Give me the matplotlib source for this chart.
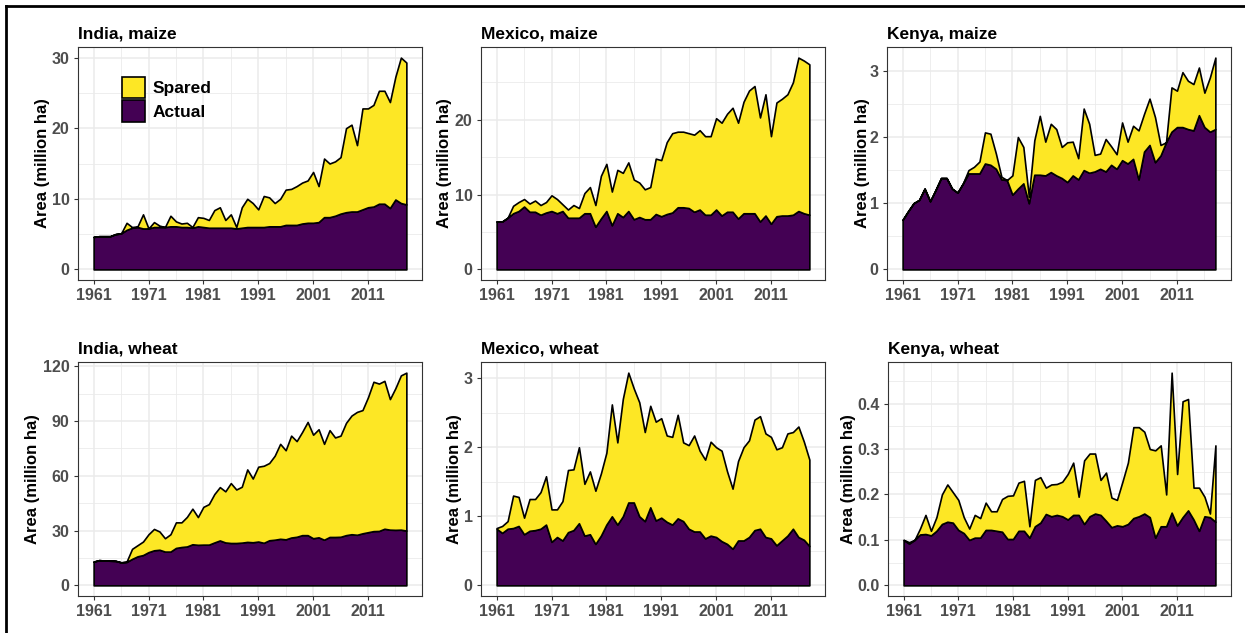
"""Spared vs actual harvested area, six country/crop panels."""

import matplotlib
matplotlib.use("Agg")
import matplotlib.pyplot as plt
from matplotlib.lines import Line2D
from matplotlib.patches import Patch
from matplotlib.ticker import FixedLocator
import numpy as np

plt.rcParams["font.family"] = ["Liberation Sans", "DejaVu Sans"]

years = np.arange(1961, 2019)
xticks = [1961, 1971, 1981, 1991, 2001, 2011]

# total area (actual + spared), million ha
india_maize_total = [
    4.6, 4.7, 4.7, 4.7, 5.0, 5.1, 6.6, 6.0, 6.1, 7.8,
    5.8, 6.7, 6.2, 6.0, 7.6, 6.8, 6.5, 6.6, 6.0, 7.4,
    7.3, 7.0, 8.4, 8.8, 7.0, 7.8, 6.0, 8.8, 10.0, 9.4,
    8.5, 10.4, 10.2, 9.4, 10.0, 11.3, 11.4, 11.8, 12.3, 12.6,
    13.8, 11.8, 15.7, 15.0, 15.3, 15.9, 20.0, 20.5, 17.6, 22.8,
    22.8, 23.3, 25.3, 25.3, 23.7, 27.3, 30.0, 29.3,
]
india_maize_actual = [
    4.6, 4.7, 4.7, 4.7, 5.0, 5.1, 5.6, 5.9, 6.0, 5.8,
    5.8, 6.0, 6.0, 6.0, 6.1, 6.1, 6.0, 6.0, 5.9, 6.1,
    6.0, 5.9, 5.9, 5.9, 5.9, 5.9, 5.8, 5.9, 6.0, 6.0,
    6.0, 6.0, 6.1, 6.1, 6.1, 6.3, 6.3, 6.3, 6.5, 6.6,
    6.6, 6.7, 7.4, 7.4, 7.6, 7.9, 8.1, 8.2, 8.2, 8.5,
    8.8, 8.9, 9.3, 9.3, 8.7, 9.9, 9.4, 9.2,
]

mexico_maize_total = [
    6.4, 6.4, 6.9, 8.5, 9.0, 9.4, 8.8, 9.2, 8.6, 9.0,
    9.9, 9.4, 8.7, 8.0, 8.6, 8.2, 10.2, 11.0, 8.6, 12.5,
    14.1, 10.4, 13.3, 12.9, 14.3, 12.0, 11.6, 10.7, 11.0, 14.8,
    14.6, 17.0, 18.2, 18.4, 18.4, 18.2, 18.0, 18.6, 17.8, 17.8,
    20.2, 19.6, 20.8, 21.6, 19.6, 22.4, 23.9, 24.5, 20.3, 23.4,
    17.8, 22.3, 22.8, 23.4, 25.0, 28.3, 27.9, 27.4,
]
mexico_maize_actual = [
    6.4, 6.4, 6.9, 7.5, 7.8, 8.4, 7.7, 7.7, 7.3, 7.6,
    7.8, 7.5, 7.8, 6.9, 6.9, 6.9, 7.5, 7.5, 5.7, 6.8,
    7.8, 5.9, 7.5, 7.0, 7.8, 6.7, 7.0, 6.7, 6.7, 7.4,
    7.1, 7.4, 7.6, 8.3, 8.3, 8.2, 7.7, 8.0, 7.3, 7.3,
    8.0, 7.2, 7.7, 7.7, 6.8, 7.5, 7.5, 7.5, 6.4, 7.2,
    6.1, 7.1, 7.2, 7.2, 7.3, 7.8, 7.5, 7.3,
]

kenya_maize_total = [
    0.75, 0.88, 1.00, 1.05, 1.22, 1.03, 1.20, 1.38, 1.38, 1.22,
    1.16, 1.30, 1.50, 1.55, 1.63, 2.07, 2.05, 1.75, 1.40, 1.35,
    1.42, 2.00, 1.85, 1.10, 1.95, 2.32, 1.93, 2.20, 2.12, 1.85,
    1.92, 1.93, 1.68, 2.43, 2.20, 1.73, 1.75, 1.97, 1.86, 1.74,
    2.22, 1.93, 2.17, 2.10, 2.35, 2.58, 2.30, 1.88, 1.92, 2.75,
    2.70, 2.98, 2.85, 2.80, 3.05, 2.67, 2.90, 3.20,
]
kenya_maize_actual = [
    0.75, 0.88, 1.00, 1.05, 1.22, 1.03, 1.20, 1.38, 1.38, 1.22,
    1.16, 1.30, 1.45, 1.45, 1.45, 1.60, 1.58, 1.52, 1.36, 1.35,
    1.13, 1.22, 1.30, 1.00, 1.43, 1.43, 1.42, 1.47, 1.42, 1.38,
    1.32, 1.42, 1.36, 1.50, 1.46, 1.48, 1.52, 1.48, 1.58, 1.52,
    1.65, 1.60, 1.67, 1.36, 1.78, 1.88, 1.62, 1.72, 1.92, 2.08,
    2.15, 2.15, 2.12, 2.10, 2.33, 2.15, 2.08, 2.12,
]

india_wheat_total = [
    13.0, 13.8, 13.6, 13.5, 13.4, 12.6, 13.0, 20.0, 22.0, 24.0,
    28.0, 30.9, 29.5, 25.8, 28.0, 34.5, 34.5, 37.5, 42.0, 37.4,
    43.0, 44.5, 50.0, 53.8, 51.5, 56.0, 52.5, 54.0, 63.5, 58.5,
    65.0, 65.5, 67.0, 71.0, 77.5, 74.0, 82.0, 79.0, 84.0, 89.5,
    82.5, 85.5, 77.5, 85.0, 81.0, 82.0, 89.0, 93.0, 95.0, 96.0,
    103.0, 111.5, 110.5, 112.0, 102.0, 108.0, 115.0, 116.5,
]
india_wheat_actual = [
    13.0, 13.8, 13.6, 13.5, 13.4, 12.6, 12.8, 14.5, 15.9, 16.6,
    18.2, 19.2, 19.5, 18.5, 18.5, 20.5, 21.0, 21.3, 22.5, 22.2,
    22.3, 22.3, 23.5, 24.6, 23.5, 23.2, 23.2, 23.4, 23.8, 23.6,
    24.0, 23.3, 24.7, 25.0, 25.5, 25.2, 26.2, 26.6, 27.5, 27.5,
    25.8, 26.3, 25.0, 26.5, 26.5, 26.6, 27.5, 28.0, 27.7, 28.5,
    29.1, 29.7, 29.8, 31.0, 30.5, 30.4, 30.5, 30.0,
]

mexico_wheat_total = [
    0.83, 0.86, 0.93, 1.30, 1.28, 0.98, 1.25, 1.25, 1.35, 1.58,
    1.10, 1.10, 1.22, 1.67, 1.68, 2.00, 1.47, 1.65, 1.37, 1.62,
    1.92, 2.62, 2.07, 2.70, 3.08, 2.85, 2.65, 2.22, 2.60, 2.37,
    2.42, 2.17, 2.15, 2.47, 2.07, 2.03, 2.17, 1.95, 1.82, 2.08,
    2.00, 1.95, 1.65, 1.40, 1.80, 2.00, 2.10, 2.40, 2.45, 2.20,
    2.15, 1.97, 2.00, 2.20, 2.22, 2.30, 2.08, 1.82,
]
mexico_wheat_actual = [
    0.82, 0.76, 0.82, 0.83, 0.86, 0.74, 0.79, 0.80, 0.82, 0.88,
    0.63, 0.70, 0.65, 0.77, 0.80, 0.90, 0.72, 0.74, 0.60, 0.72,
    0.88, 1.00, 0.88, 1.00, 1.20, 1.20, 1.00, 0.93, 1.13, 0.94,
    0.98, 0.92, 0.88, 0.97, 0.93, 0.82, 0.78, 0.78, 0.68, 0.72,
    0.70, 0.64, 0.60, 0.53, 0.65, 0.65, 0.70, 0.80, 0.82, 0.70,
    0.68, 0.58, 0.65, 0.72, 0.82, 0.70, 0.66, 0.57,
]

kenya_wheat_total = [
    0.100, 0.095, 0.100, 0.125, 0.155, 0.120, 0.150, 0.200, 0.222, 0.205,
    0.188, 0.150, 0.125, 0.155, 0.148, 0.182, 0.163, 0.163, 0.190, 0.197,
    0.198, 0.226, 0.230, 0.130, 0.232, 0.238, 0.215, 0.222, 0.223, 0.228,
    0.245, 0.270, 0.195, 0.275, 0.290, 0.290, 0.232, 0.248, 0.193, 0.188,
    0.228, 0.270, 0.348, 0.348, 0.338, 0.300, 0.297, 0.308, 0.200, 0.468,
    0.245, 0.405, 0.410, 0.215, 0.215, 0.195, 0.158, 0.308,
]
kenya_wheat_actual = [
    0.100, 0.092, 0.100, 0.112, 0.113, 0.110, 0.120, 0.135, 0.140, 0.138,
    0.122, 0.115, 0.100, 0.105, 0.105, 0.122, 0.122, 0.120, 0.118, 0.102,
    0.102, 0.120, 0.120, 0.105, 0.130, 0.138, 0.157, 0.152, 0.155, 0.152,
    0.145, 0.155, 0.155, 0.135, 0.152, 0.158, 0.155, 0.142, 0.128, 0.132,
    0.130, 0.135, 0.148, 0.152, 0.158, 0.150, 0.105, 0.130, 0.130, 0.160,
    0.132, 0.150, 0.165, 0.145, 0.120, 0.152, 0.150, 0.140,
]

titles = ["India, maize", "Mexico, maize", "Kenya, maize",
          "India, wheat", "Mexico, wheat", "Kenya, wheat"]
totals = [india_maize_total, mexico_maize_total, kenya_maize_total,
          india_wheat_total, mexico_wheat_total, kenya_wheat_total]
actuals = [india_maize_actual, mexico_maize_actual, kenya_maize_actual,
           india_wheat_actual, mexico_wheat_actual, kenya_wheat_actual]
yticks = [[0, 10, 20, 30], [0, 10, 20], [0, 1, 2, 3],
          [0, 30, 60, 90, 120], [0, 1, 2, 3], [0.0, 0.1, 0.2, 0.3, 0.4]]
yfmt = ["{:.0f}"] * 5 + ["{:.1f}"]

SPARED = "#FDE725"
ACTUAL = "#440154"

W, H = 1245, 633
fig = plt.figure(figsize=(W / 100, H / 100), dpi=100)

# panel boxes in pixels: left, top, right, bottom
boxes = [(78, 47, 422, 280), (481, 47, 825, 280), (887, 47, 1231, 280),
         (78, 362, 422, 596), (481, 362, 825, 596), (888, 362, 1231, 596)]
label_x = [42, 445, 862, 33, 454, 849]

for i in range(6):
    l, t, r, b = boxes[i]
    ax = fig.add_axes([l / W, 1 - b / H, (r - l) / W, (b - t) / H])
    tot = np.array(totals[i])
    act = np.array(actuals[i])

    ax.fill_between(years, 0, act, facecolor=ACTUAL, edgecolor="black", linewidth=1.2, zorder=3)
    ax.fill_between(years, act, tot, facecolor=SPARED, edgecolor="black", linewidth=1.2, zorder=3)

    top = tot.max()
    ax.set_ylim(-0.05 * top, 1.05 * top)
    ax.set_xlim(1961 - 0.05 * 57, 2018 + 0.05 * 57)

    ax.xaxis.set_major_locator(FixedLocator(xticks))
    ax.xaxis.set_minor_locator(FixedLocator([x + 5 for x in xticks]))
    ax.set_yticks(yticks[i])
    ax.set_yticklabels([yfmt[i].format(v) for v in yticks[i]])
    step = yticks[i][1] - yticks[i][0]
    ax.yaxis.set_minor_locator(FixedLocator(np.arange(step / 2, 1.05 * top, step)))

    ax.grid(which="major", color="#EBEBEB", linewidth=1.1)
    ax.grid(which="minor", color="#EBEBEB", linewidth=0.6)
    ax.set_axisbelow(True)
    ax.tick_params(which="minor", length=0)
    ax.tick_params(which="major", length=3, width=0.8, color="#333333",
                   labelcolor="#4D4D4D", labelsize=11.5, pad=3)
    for lab in ax.get_xticklabels() + ax.get_yticklabels():
        lab.set_fontweight("bold")
    for sp in ax.spines.values():
        sp.set_color("#333333")
        sp.set_linewidth(0.8)

    ax.set_title(titles[i], loc="left", fontsize=12.5, fontweight="bold", pad=6)
    ax.set_ylabel("Area (million ha)", fontsize=12, fontweight="bold", va="center")
    ax.yaxis.set_label_coords((label_x[i] - l) / (r - l), 0.5)

    if i == 0:
        handles = [Patch(facecolor=SPARED, edgecolor="black", linewidth=1.2, label="Spared"),
                   Patch(facecolor=ACTUAL, edgecolor="black", linewidth=1.2, label="Actual")]
        ax.legend(handles=handles, loc="upper left", bbox_to_anchor=(0.127, 0.873),
                  frameon=False, borderpad=0, borderaxespad=0,
                  handlelength=1.35, handleheight=1.55, labelspacing=0.1,
                  handletextpad=0.45, prop={"weight": "bold", "size": 12.5})

# outer frame (only left and top edges visible)
fig.add_artist(Line2D([6 / W, 6 / W], [0, 1 - 6 / H], color="black", linewidth=2))
fig.add_artist(Line2D([6 / W, 1], [1 - 6 / H, 1 - 6 / H], color="black", linewidth=2))

fig.savefig("out.png", dpi=100)
